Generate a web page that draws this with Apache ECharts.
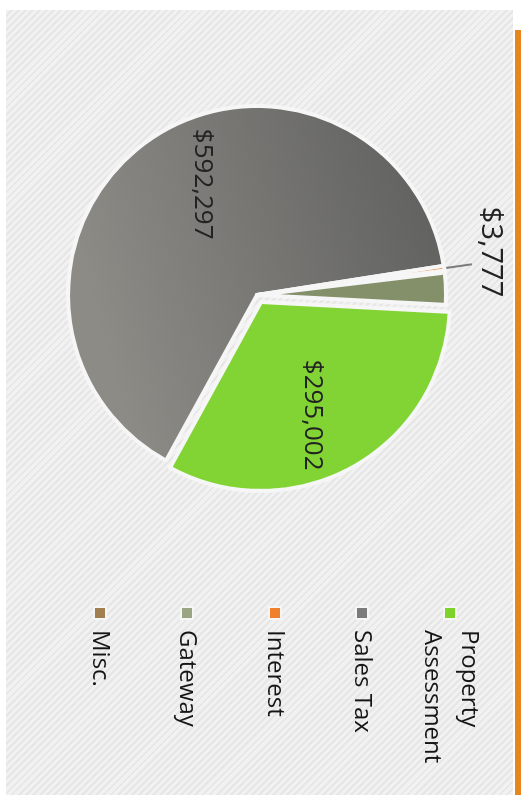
<!DOCTYPE html>
<html>
<head>
<meta charset="utf-8">
<script src="https://cdn.jsdelivr.net/npm/echarts@6/dist/echarts.min.js"></script>
<style>
  html, body { margin: 0; padding: 0; background: #ffffff; width: 521px; height: 795px; overflow: hidden; }
  #panel {
    position: absolute; left: 6px; top: 10px; width: 507px; height: 785px;
    background-color: #f0f0f0;
    background-image: repeating-linear-gradient(135deg, #f1f1f1 0px, #f1f1f1 3px, #e6e6e6 3px, #e6e6e6 5px);
  }
  #edge { position: absolute; left: 515px; top: 30px; width: 6px; height: 765px; background: #e8861e; }
  #chart {
    position: absolute; left: 0; top: 0; width: 795px; height: 521px;
    transform-origin: 0 0; transform: translateX(521px) rotate(90deg);
  }
</style>
</head>
<body>
<div id="panel"></div>
<div id="edge"></div>
<div id="chart"></div>
<script>
// Data
const categories = ['Property Assessment', 'Sales Tax', 'Interest', 'Misc.', 'Gateway'];
const values = [295002, 592297, 3777, 1500, 25000];
const colors = ['#82d435', '#6f6f6c', '#ef7f2c', '#9c7b4e', '#83906a'];
const legendOrder = ['Property Assessment', 'Sales Tax', 'Interest', 'Gateway', 'Misc.'];
const legendLabels = ['Property\nAssessment', 'Sales Tax', 'Interest', 'Gateway', 'Misc.'];
const legendIconColors = ['#7fd22c', '#7b7b7b', '#f0802a', '#9aa583', '#a0804f'];
const labelled = { 'Property Assessment': 'inside', 'Sales Tax': 'inside', 'Interest': 'outside' };

const fmt = v => '$' + v.toLocaleString('en-US');

const chart = echarts.init(document.getElementById('chart'), null, { width: 795, height: 521 });

const labelShift = {
  'Property Assessment': { dx: 28, dy: -4 },
  'Sales Tax': { dx: -31, dy: -1 },
  'Interest': { dx: 38, dy: -18 }
};

const seriesData = categories.map((name, i) => {
  const item = { name, value: values[i], itemStyle: { color: colors[i] } };
  if (name === 'Sales Tax') {
    item.itemStyle.color = new echarts.graphic.LinearGradient(0, 0, 0.3, 1, [
      { offset: 0, color: '#5d5d5c' },
      { offset: 1, color: '#8c8b86' }
    ]);
  }
  if (name === 'Property Assessment') item.selected = true;
  if (labelled[name]) {
    item.label = { show: true, position: labelled[name] };
    if (labelled[name] === 'outside') {
      item.label.fontSize = 29;
      item.labelLine = { show: true, length: 28, length2: 0, smooth: false,
        lineStyle: { color: '#7a7a7a', width: 2 } };
    }
  }
  return item;
});

const legendCenters = [71, 159, 246, 334, 421];
const legends = legendOrder.map((name, i) => {
  const twoLine = legendLabels[i].indexOf('\n') >= 0;
  return {
    data: [{ name, itemStyle: { color: legendIconColors[i] } }],
    orient: 'vertical',
    left: 606,
    top: legendCenters[i] - (twoLine ? 55.5 : 18.5),
    padding: 0,
    icon: 'rect',
    itemWidth: 12,
    itemHeight: 12,
    selectedMode: false,
    formatter: () => legendLabels[i],
    textStyle: {
      fontFamily: 'Open Sans',
      fontSize: 24,
      lineHeight: 37,
      color: '#161616',
      padding: twoLine ? [37, 0, 0, 6] : [0, 0, 0, 6]
    }
  };
});

chart.setOption({
  backgroundColor: 'transparent',
  animation: false,
  legend: legends,
  series: [{
    type: 'pie',
    center: [295, 264],
    radius: 189,
    startAngle: 87,
    clockwise: true,
    avoidLabelOverlap: false,
    selectedMode: 'single',
    selectedOffset: 8,
    emphasis: { disabled: true },
    itemStyle: { borderColor: '#f6f6f6', borderWidth: 4 },
    label: {
      show: false,
      formatter: p => fmt(p.value),
      fontFamily: 'Open Sans',
      fontSize: 26,
      color: '#222222'
    },
    labelLine: { show: false },
    labelLayout: params => labelShift[categories[params.dataIndex]] || {},
    data: seriesData
  }]
});
</script>
</body>
</html>
